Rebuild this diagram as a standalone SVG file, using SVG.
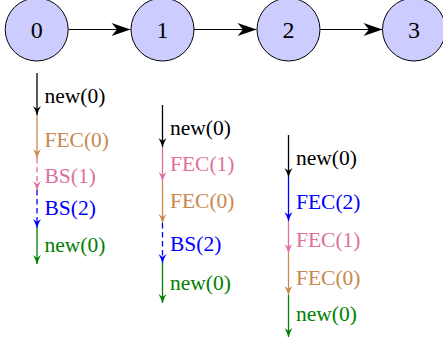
<svg xmlns="http://www.w3.org/2000/svg" width="443" height="345" viewBox="0 0 443 345">
<style>
.node{fill:#ccccff;stroke:#000;stroke-width:1}
text{font-family:"Liberation Serif","Times New Roman",Times,"Nimbus Roman","DejaVu Serif",serif}
.nl{font-size:24px;text-anchor:middle;fill:#000}
.lb{font-size:21.5px}
.h{stroke:#000;stroke-width:1.1;fill:none}
.v{stroke-width:1.3;fill:none}
.d{stroke-dasharray:5.5 3.5}
.k{stroke:#000}.kt{fill:#000}
.t{stroke:#c8884e}.tt{fill:#c8884e}
.p{stroke:#e0709b}.pt{fill:#e0709b}
.b{stroke:#0000ff}.bt{fill:#0000ff}
.g{stroke:#008000}.gt{fill:#008000}
</style>
<defs>
<marker id="ah" markerUnits="userSpaceOnUse" orient="auto" refX="0" refY="0" markerWidth="22" markerHeight="16" viewBox="-20 -8 22 16" overflow="visible">
<path d="M0,0 L-19,-6.5 L-13.5,0 L-19,6.5 Z" fill="#000"/>
</marker>
<marker id="ak" markerUnits="userSpaceOnUse" orient="auto" refX="0" refY="0" markerWidth="12" markerHeight="10" viewBox="-10 -5 12 10" overflow="visible"><path d="M0,0 Q-5,-1.6 -9,-4 L-6,0 L-9,4 Q-5,1.6 0,0 Z" fill="#000"/></marker>
<marker id="at" markerUnits="userSpaceOnUse" orient="auto" refX="0" refY="0" markerWidth="12" markerHeight="10" viewBox="-10 -5 12 10" overflow="visible"><path d="M0,0 Q-5,-1.6 -9,-4 L-6,0 L-9,4 Q-5,1.6 0,0 Z" fill="#c8884e"/></marker>
<marker id="ap" markerUnits="userSpaceOnUse" orient="auto" refX="0" refY="0" markerWidth="12" markerHeight="10" viewBox="-10 -5 12 10" overflow="visible"><path d="M0,0 Q-5,-1.6 -9,-4 L-6,0 L-9,4 Q-5,1.6 0,0 Z" fill="#e0709b"/></marker>
<marker id="ab" markerUnits="userSpaceOnUse" orient="auto" refX="0" refY="0" markerWidth="12" markerHeight="10" viewBox="-10 -5 12 10" overflow="visible"><path d="M0,0 Q-5,-1.6 -9,-4 L-6,0 L-9,4 Q-5,1.6 0,0 Z" fill="#0000ff"/></marker>
<marker id="ag" markerUnits="userSpaceOnUse" orient="auto" refX="0" refY="0" markerWidth="12" markerHeight="10" viewBox="-10 -5 12 10" overflow="visible"><path d="M0,0 Q-5,-1.6 -9,-4 L-6,0 L-9,4 Q-5,1.6 0,0 Z" fill="#008000"/></marker>
</defs>
<g id="connectors">
<line class="h" x1="68.5" y1="29.5" x2="130.5" y2="29.5" marker-end="url(#ah)"/>
<line class="h" x1="194" y1="29.5" x2="256.5" y2="29.5" marker-end="url(#ah)"/>
<line class="h" x1="320" y1="29.5" x2="382.5" y2="29.5" marker-end="url(#ah)"/>
</g>
<g id="node0"><circle class="node" cx="36.7" cy="29.5" r="31.5"/><text class="nl" x="36.7" y="38">0</text></g>
<g id="node1"><circle class="node" cx="162.5" cy="29.5" r="31.5"/><text class="nl" x="162.5" y="38">1</text></g>
<g id="node2"><circle class="node" cx="288.5" cy="29.5" r="31.5"/><text class="nl" x="288.5" y="38">2</text></g>
<g id="node3"><circle class="node" cx="414" cy="29.5" r="31.5"/><text class="nl" x="414" y="38">3</text></g>
<g id="seq0">
<line class="v k" x1="37" y1="73" x2="37" y2="115" marker-end="url(#ak)"/>
<line class="v t" x1="37" y1="115" x2="37" y2="158" marker-end="url(#at)"/>
<line class="v p d" x1="37" y1="158" x2="37" y2="190" marker-end="url(#ap)"/>
<line class="v b d" x1="37" y1="190" x2="37" y2="228" marker-end="url(#ab)"/>
<line class="v g" x1="37" y1="228" x2="37" y2="264" marker-end="url(#ag)"/>
<text class="lb kt" x="44.5" y="103">new(0)</text>
<text class="lb tt" x="44.5" y="146.5">FEC(0)</text>
<text class="lb pt" x="44.5" y="183">BS(1)</text>
<text class="lb bt" x="44.5" y="215">BS(2)</text>
<text class="lb gt" x="44.5" y="252">new(0)</text>
</g>
<g id="seq1">
<line class="v k" x1="162.5" y1="105" x2="162.5" y2="147" marker-end="url(#ak)"/>
<line class="v p" x1="162.5" y1="147" x2="162.5" y2="181" marker-end="url(#ap)"/>
<line class="v t" x1="162.5" y1="181" x2="162.5" y2="223" marker-end="url(#at)"/>
<line class="v b d" x1="162.5" y1="223" x2="162.5" y2="263" marker-end="url(#ab)"/>
<line class="v g" x1="162.5" y1="263" x2="162.5" y2="303" marker-end="url(#ag)"/>
<text class="lb kt" x="170" y="134.5">new(0)</text>
<text class="lb pt" x="170" y="170.5">FEC(1)</text>
<text class="lb tt" x="170" y="208">FEC(0)</text>
<text class="lb bt" x="170" y="251">BS(2)</text>
<text class="lb gt" x="170" y="290">new(0)</text>
</g>
<g id="seq2">
<line class="v k" x1="288.5" y1="135" x2="288.5" y2="177" marker-end="url(#ak)"/>
<line class="v b" x1="288.5" y1="177" x2="288.5" y2="221" marker-end="url(#ab)"/>
<line class="v p" x1="288.5" y1="221" x2="288.5" y2="253" marker-end="url(#ap)"/>
<line class="v t" x1="288.5" y1="253" x2="288.5" y2="295" marker-end="url(#at)"/>
<line class="v g" x1="288.5" y1="295" x2="288.5" y2="337" marker-end="url(#ag)"/>
<text class="lb kt" x="296" y="165">new(0)</text>
<text class="lb bt" x="296" y="209">FEC(2)</text>
<text class="lb pt" x="296" y="247">FEC(1)</text>
<text class="lb tt" x="296" y="285">FEC(0)</text>
<text class="lb gt" x="296" y="321">new(0)</text>
</g>
</svg>
